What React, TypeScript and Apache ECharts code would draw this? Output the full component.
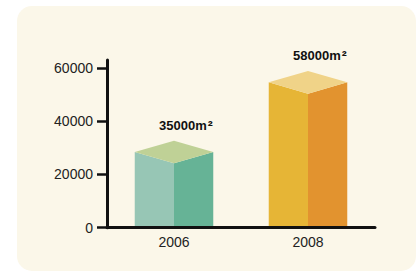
import React, { useEffect, useRef } from "react";
import * as echarts from "echarts";

const categories = ["2006", "2008"];
const barValues = [28450, 54600];
const labelValues = [35000, 58000];
const yTicks = [0, 20000, 40000, 60000];
const faceColors = [
  { left: "#97C6B5", right: "#66B396", top: "#BFD196" },
  { left: "#E6B536", right: "#E2932F", top: "#F0D388" },
];

const FONT = "'Liberation Sans', Arial, Helvetica, sans-serif";

export default function App() {
  const ref = useRef<HTMLDivElement>(null);
  useEffect(() => {
    if (!ref.current) return;
    const chart = echarts.init(ref.current, null, { renderer: "svg" });
    chart.setOption({
      animation: false,
      backgroundColor: "#ffffff",
      graphic: [
        {
          type: "rect",
          z: -10,
          silent: true,
          shape: { x: 17, y: 6, width: 399, height: 265, r: 15 },
          style: { fill: "#FBF7E9" },
        },
      ],
      grid: { left: 107, top: 60, width: 268, bottom: 43.3, containLabel: false },
      xAxis: {
        type: "category",
        data: categories,
        z: 5,
        axisLine: { lineStyle: { color: "#111", width: 3 } },
        axisTick: { show: false },
        axisLabel: { color: "#222", fontSize: 14, fontFamily: FONT, margin: 7 },
        splitLine: { show: false },
      },
      yAxis: {
        type: "value",
        min: 0,
        max: 63000,
        z: 5,
        axisLine: { show: true, lineStyle: { color: "#111", width: 3 } },
        axisTick: {
          show: true,
          length: 10,
          customValues: yTicks,
          lineStyle: { color: "#111", width: 2.5 },
        },
        axisLabel: {
          color: "#222",
          fontSize: 14,
          fontFamily: FONT,
          margin: 14,
          customValues: yTicks,
          formatter: (v: number) => String(v),
        },
        splitLine: { show: false },
      },
      series: [
        {
          type: "custom",
          data: barValues.map((v, i) => [i, v]),
          renderItem: (params: any, api: any) => {
            const xi = api.value(0);
            const v = api.value(1);
            const top = api.coord([xi, v]);
            const base = api.coord([xi, 0]);
            const band = api.size([1, 0])[0];
            const hw = band * 0.293;
            const d = 11.3;
            const cx = top[0];
            const ty = top[1];
            const by = base[1];
            const c = faceColors[params.dataIndex];
            return {
              type: "group",
              children: [
                {
                  type: "polygon",
                  shape: { points: [[cx - hw, ty], [cx, ty + d], [cx, by], [cx - hw, by]] },
                  style: { fill: c.left },
                },
                {
                  type: "polygon",
                  shape: { points: [[cx, ty + d], [cx + hw, ty], [cx + hw, by], [cx, by]] },
                  style: { fill: c.right },
                },
                {
                  type: "polygon",
                  shape: { points: [[cx - hw, ty], [cx, ty - d], [cx + hw, ty], [cx, ty + d]] },
                  style: { fill: c.top },
                },
                {
                  type: "text",
                  style: {
                    text: labelValues[params.dataIndex] + "m{s|²}",
                    x: cx - 15,
                    y: ty - d - 15.5,
                    align: "left",
                    verticalAlign: "middle",
                    fill: "#111",
                    font: "bold 13px " + FONT,
                    rich: {
                      s: {
                        fontSize: 15,
                        fontWeight: "bold",
                        fontFamily: FONT,
                        fill: "#111",
                        padding: [0, 0, 0, 1],
                      },
                    },
                  },
                },
              ],
            };
          },
        },
      ],
    });
    return () => chart.dispose();
  }, []);
  return (
    <div
      ref={ref}
      style={{ position: "fixed", left: 0, top: 0, width: 416, height: 271 }}
    />
  );
}
